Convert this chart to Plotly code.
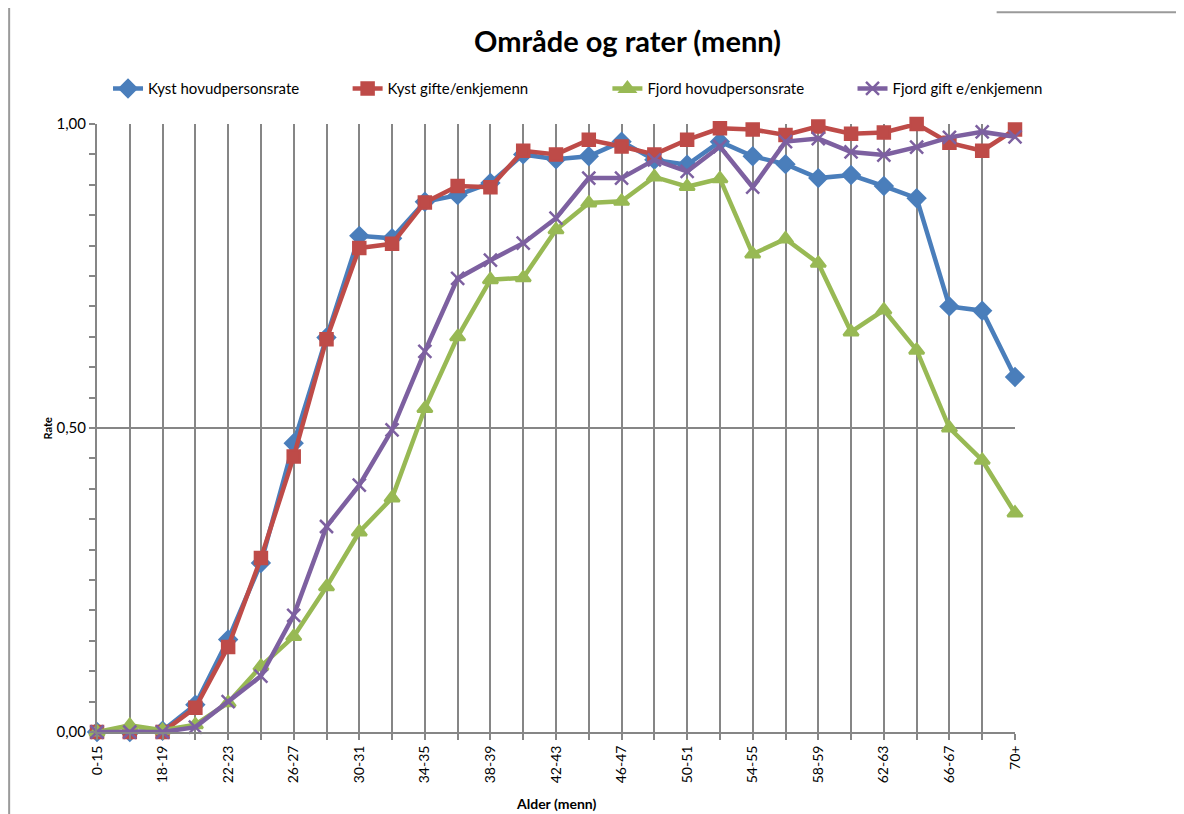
import plotly.graph_objects as go

# age groups (men), one point per group
age_groups = ["0-15"] + [f"{a}-{a + 1}" for a in range(16, 70, 2)] + ["70+"]

kyst_hovud = [0, 0, 0.002, 0.045, 0.152, 0.278, 0.475, 0.649, 0.816, 0.812,
              0.872, 0.883, 0.903, 0.950, 0.942, 0.947, 0.971, 0.941, 0.933, 0.971,
              0.947, 0.934, 0.911, 0.916, 0.898, 0.878, 0.700, 0.693, 0.584]
kyst_gifte = [0, 0, 0, 0.040, 0.140, 0.286, 0.453, 0.646, 0.796, 0.803,
              0.871, 0.898, 0.896, 0.956, 0.950, 0.974, 0.963, 0.950, 0.974, 0.993,
              0.991, 0.982, 0.996, 0.984, 0.986, 1.0, 0.969, 0.956, 0.991]
fjord_hovud = [0, 0.011, 0.003, 0.012, 0.048, 0.108, 0.157, 0.239, 0.329, 0.385,
               0.532, 0.650, 0.744, 0.747, 0.826, 0.870, 0.873, 0.913, 0.897, 0.910,
               0.786, 0.811, 0.771, 0.658, 0.694, 0.628, 0.500, 0.447, 0.360]
fjord_gifte = [0, 0, 0, 0.008, 0.050, 0.092, 0.192, 0.338, 0.406, 0.497,
               0.626, 0.746, 0.776, 0.804, 0.845, 0.911, 0.911, 0.941, 0.922, 0.963,
               0.896, 0.971, 0.976, 0.954, 0.949, 0.962, 0.978, 0.987, 0.979]

series = [
    ("Kyst hovudpersonsrate", kyst_hovud, "#4A7EBB", "diamond", 13),
    ("Kyst gifte/enkjemenn", kyst_gifte, "#BE4B48", "square", 12),
    ("Fjord hovudpersonsrate", fjord_hovud, "#98B954", "triangle-up", 13),
    ("Fjord gift e/enkjemenn", fjord_gifte, "#7D60A0", "x-thin", 13),
]
# left edge of each legend entry, in plot-area fractions
legend_x = [0.012, 0.273, 0.556, 0.823]

FONT = "Lato"
GRID = "#868686"
x_idx = list(range(len(age_groups)))

fig = go.Figure()
for i, (name, vals, color, symbol, size) in enumerate(series):
    fig.add_trace(go.Scatter(
        x=x_idx, y=vals, name=name, mode="lines+markers",
        line=dict(color=color, width=4.5),
        marker=dict(symbol=symbol, size=size, color=color,
                    line=dict(color=color, width=2.5)),
        cliponaxis=False,
        legend="legend" if i == 0 else f"legend{i + 1}",
    ))

legends = {}
for i, lx in enumerate(legend_x):
    key = "legend" if i == 0 else f"legend{i + 1}"
    legends[key] = dict(orientation="h", x=lx, y=1.058, xanchor="left", yanchor="middle",
                        bgcolor="rgba(0,0,0,0)", font=dict(family=FONT, size=15))

# the page body adds an 8px offset, so margins are shifted by 8px
fig.update_layout(
    width=1184, height=814,
    margin=dict(l=89, r=177, t=116, b=90, autoexpand=False),
    paper_bgcolor="white", plot_bgcolor="white",
    separators=", ",
    font=dict(family=FONT, size=14, color="#000000"),
    showlegend=True,
    **legends,
)

fig.update_xaxes(
    range=[0, 28],
    automargin=False,
    tickmode="array",
    tickvals=x_idx[::2],
    ticktext=age_groups[::2],
    tickangle=-90,
    tickfont=dict(family=FONT, size=14),
    showline=True, linecolor=GRID, linewidth=2,
    showgrid=True, gridcolor=GRID, gridwidth=2,
    ticks="outside", ticklen=6, tickcolor=GRID, tickwidth=2,
    minor=dict(dtick=1, tick0=0, showgrid=True, gridcolor=GRID, gridwidth=2,
               ticks="outside", ticklen=6, tickcolor=GRID, tickwidth=2),
    zeroline=False,
)
fig.update_yaxes(
    range=[0, 1],
    automargin=False,
    tickvals=[0, 0.5, 1.0],
    tickformat=".2f",
    tickfont=dict(family=FONT, size=15),
    showline=True, linecolor=GRID, linewidth=2,
    showgrid=True, gridcolor=GRID, gridwidth=2,
    ticks="outside", ticklen=6, tickcolor=GRID, tickwidth=2,
    minor=dict(dtick=0.05, ticks="outside", ticklen=6, tickcolor=GRID, tickwidth=2,
               showgrid=False),
    zeroline=False,
)

# titles
fig.add_annotation(text="<b>Område og rater (menn)</b>", xref="paper", yref="paper",
                   x=0.578, y=1.138, xanchor="center", yanchor="middle",
                   showarrow=False, font=dict(family=FONT, size=29))
fig.add_annotation(text="<b>Alder (menn)</b>", xref="paper", yref="paper",
                   x=0.5, y=-0.117, xanchor="center", yanchor="middle",
                   showarrow=False, font=dict(family=FONT, size=14))
fig.add_annotation(text="<b>Rate</b>", xref="paper", yref="paper",
                   x=-0.054, y=0.5, xanchor="center", yanchor="middle", textangle=-90,
                   showarrow=False, font=dict(family=FONT, size=11))

# chart area border (left edge, and top edge at the right)
fig.add_shape(type="line", xref="paper", yref="paper", x0=-0.0957, x1=-0.0957, y0=-0.2, y1=1.25,
              line=dict(color="#9a9a9a", width=2))
fig.add_shape(type="line", xref="paper", yref="paper", x0=0.98, x1=1.2, y0=1.184, y1=1.184,
              line=dict(color="#9a9a9a", width=2))

fig.write_html("out.html")
